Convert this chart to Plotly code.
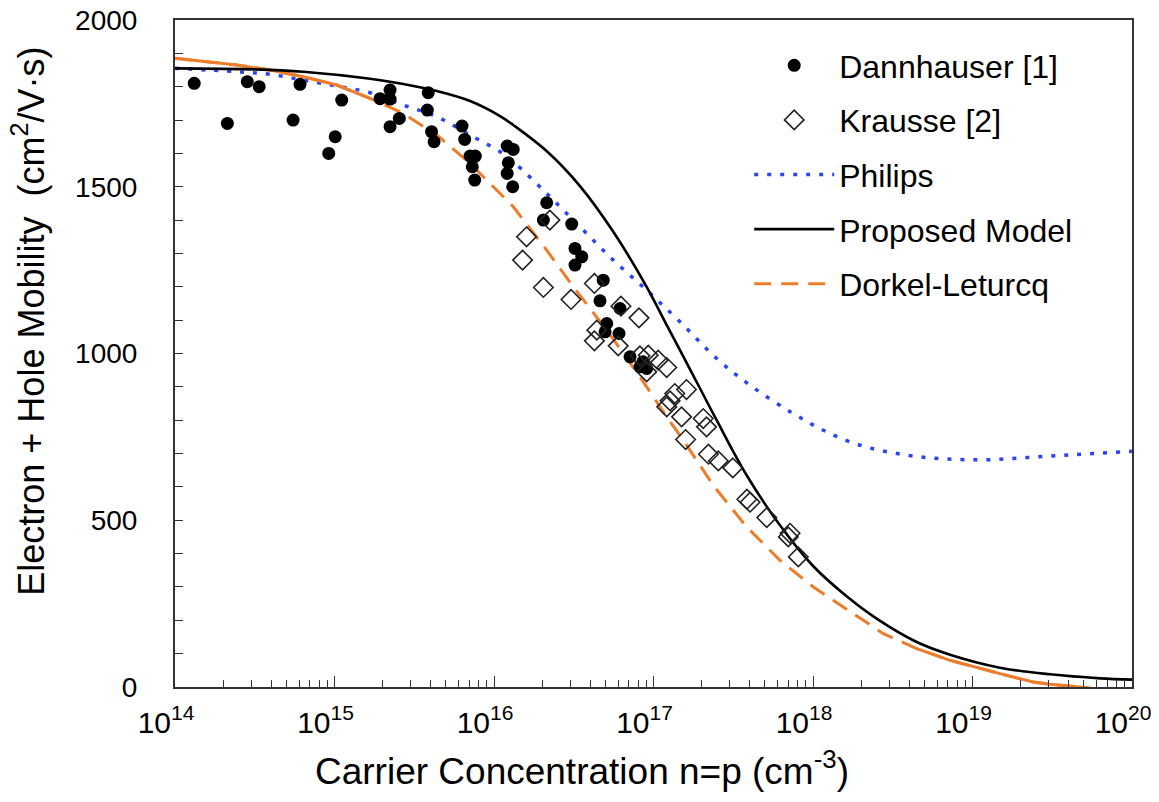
import plotly.graph_objects as go

# ---------------- data ----------------
# Dannhauser [1] measurements: carrier concentration (cm^-3), mobility (cm^2/V.s)
dann_conc = [1.32e14, 2.13e14, 2.84e14, 3.37e14, 5.50e14, 6.08e14, 9.2e14, 1.01e15, 1.11e15,
             1.93e15, 2.23e15, 2.23e15, 2.55e15, 2.23e15, 3.87e15, 3.82e15, 4.06e15, 4.21e15,
             6.30e15, 6.55e15, 7.08e15, 7.64e15, 7.31e15, 7.57e15, 1.21e16, 1.32e16, 1.23e16,
             1.21e16, 1.31e16, 2.14e16, 2.04e16, 3.07e16, 3.22e16, 3.55e16, 3.22e16, 4.84e16,
             4.62e16, 6.17e16, 5.09e16, 4.97e16, 6.08e16, 7.13e16, 8.22e16, 9.06e16, 8.59e16]
dann_mob = [1810, 1690, 1815, 1800, 1700, 1807, 1600, 1650, 1760,
            1764, 1790, 1763, 1705, 1680, 1782, 1730, 1665, 1635,
            1682, 1642, 1592, 1592, 1560, 1520, 1622, 1612, 1572,
            1540, 1500, 1452, 1400, 1388, 1315, 1290, 1265, 1220,
            1158, 1135, 1090, 1065, 1060, 990, 960, 955, 975]

# Krausse [2] measurements
kr_conc = [2.24e16, 1.60e16, 1.51e16, 2.04e16, 3.04e16, 4.26e16, 6.25e16, 8.11e16, 4.41e16,
           4.26e16, 6.01e16, 8.22e16, 9.27e16, 1.07e17, 1.21e17, 9.06e16, 1.61e17, 1.36e17,
           1.27e17, 1.21e17, 1.50e17, 2.05e17, 2.15e17, 1.59e17, 2.21e17, 2.55e17, 3.14e17,
           3.85e17, 4.03e17, 5.13e17, 7.00e17, 7.18e17, 8.09e17]
kr_mob = [1400, 1350, 1280, 1198, 1162, 1210, 1142, 1107, 1070,
          1038, 1023, 993, 995, 980, 958, 945, 892, 880,
          858, 840, 810, 805, 780, 742, 698, 678, 657,
          563, 554, 508, 450, 461, 390]

# Philips model (log10 of concentration, mobility)
phil_exp = [14.0, 14.387, 14.596, 14.804, 15.014, 15.223, 15.431, 15.641, 15.850, 16.038,
            16.121, 16.330, 16.539, 16.748, 16.957, 17.166, 17.396, 17.605, 17.876, 18.086,
            18.295, 18.503, 18.713, 18.922, 19.130, 19.340, 19.549, 19.757, 20.0]
phil_mob = [1855, 1845, 1837, 1820, 1802, 1782, 1745, 1710, 1655, 1605,
            1575, 1480, 1380, 1280, 1190, 1095, 985, 905, 820, 765,
            725, 702, 688, 682, 682, 688, 694, 700, 707]

# Proposed model
prop_exp = [14.0, 14.5, 14.804, 15.223, 15.431, 15.641, 15.850, 16.038, 16.121, 16.330,
            16.539, 16.748, 16.957, 17.083, 17.166, 17.292, 17.396, 17.584, 17.793, 18.002,
            18.211, 18.399, 18.650, 18.859, 19.172, 19.486, 19.799, 20.0]
prop_mob = [1855, 1852, 1845, 1824, 1808, 1787, 1757, 1712, 1685, 1607,
            1502, 1365, 1200, 1085, 1010, 895, 800, 635, 485, 362,
            272, 205, 135, 97, 58, 38, 26, 22]

# Dorkel-Leturcq model
dork_exp = [14.0, 14.177, 14.387, 14.596, 14.804, 15.014, 15.223, 15.431, 15.641, 15.850,
            16.038, 16.121, 16.330, 16.497, 16.707, 16.915, 17.083, 17.187, 17.270, 17.374,
            17.584, 17.793, 18.002, 18.253, 18.441, 18.650, 18.859, 19.172, 19.381, 19.486,
            19.674, 20.0]
dork_mob = [1885, 1875, 1865, 1850, 1830, 1805, 1765, 1720, 1655, 1570,
            1480, 1440, 1310, 1200, 1070, 930, 810, 740, 680, 605,
            480, 380, 300, 220, 160, 115, 80, 40, 15, 8,
            0, -20]

# ---------------- figure ----------------
FONT = "Liberation Sans, Arial, sans-serif"
ORANGE = "#ee7d2b"

fig = go.Figure()

# model curves first (markers drawn on top)
fig.add_trace(go.Scatter(
    x=[10 ** e for e in phil_exp], y=phil_mob, mode="lines", name="Philips",
    line=dict(color="#2b45f5", width=3.5, dash="4px,9px", shape="spline"),
    legendgroup="g3", legendrank=3))

fig.add_trace(go.Scatter(
    x=[10 ** e for e in dork_exp], y=dork_mob, mode="lines", name="Dorkel-Leturcq",
    line=dict(color=ORANGE, width=3, dash="17px,10px"),
    legendgroup="g5", legendrank=5))

# the flat ends of the Dorkel-Leturcq curve render as a solid stroke in the reference
for lo, hi in [(14.0, 15.25), (18.6, 20.0)]:
    idx = [i for i, e in enumerate(dork_exp) if lo <= e <= hi]
    fig.add_trace(go.Scatter(
        x=[10 ** dork_exp[i] for i in idx], y=[dork_mob[i] for i in idx],
        mode="lines", showlegend=False, hoverinfo="skip",
        line=dict(color=ORANGE, width=3),
        legendgroup="g5", legendrank=5))

fig.add_trace(go.Scatter(
    x=[10 ** e for e in prop_exp], y=prop_mob, mode="lines", name="Proposed Model",
    line=dict(color="black", width=2.6, shape="spline"),
    legendgroup="g4", legendrank=4))

fig.add_trace(go.Scatter(
    x=dann_conc, y=dann_mob, mode="markers", name="Dannhauser [1]",
    marker=dict(symbol="circle", size=13, color="black"),
    legendgroup="g1", legendrank=1))

fig.add_trace(go.Scatter(
    x=kr_conc, y=kr_mob, mode="markers", name="Krausse [2]",
    marker=dict(symbol="diamond-open", size=15, color="#222222", line=dict(width=1.6)),
    legendgroup="g2", legendrank=2))

fig.update_layout(
    width=1159, height=802,
    margin=dict(l=175, r=27, t=20, b=115),
    paper_bgcolor="white", plot_bgcolor="white",
    font=dict(family=FONT, color="black"),
    showlegend=True,
    legend=dict(
        x=0.60, y=0.973, xanchor="left", yanchor="top",
        font=dict(family=FONT, size=32, color="black"),
        bgcolor="rgba(0,0,0,0)", borderwidth=0,
        itemwidth=80, tracegroupgap=10, traceorder="grouped"),
    annotations=[
        dict(text="Carrier Concentration n=p (cm<sup>-3</sup>)",
             xref="paper", yref="paper", x=0.4253, y=-0.122,
             xanchor="center", yanchor="middle", showarrow=False,
             font=dict(family=FONT, size=37, color="black")),
        dict(text="Electron + Hole Mobility  (cm<sup>2</sup>/V·s)",
             xref="paper", yref="paper", x=-0.153, y=0.5485,
             xanchor="center", yanchor="middle", showarrow=False, textangle=-90,
             font=dict(family=FONT, size=36, color="black")),
    ],
)

fig.update_xaxes(
    type="log", range=[14, 20], dtick=1, exponentformat="power",
    automargin=False,
    showgrid=False, zeroline=False,
    showline=True, linecolor="#333333", linewidth=2, mirror=True,
    ticks="inside", ticklen=11, tickwidth=1.2, tickcolor="#333333",
    minor=dict(ticks="inside", ticklen=7, tickwidth=1.2, tickcolor="#333333",
               dtick="D1", showgrid=False),
    tickfont=dict(family=FONT, size=24),
    ticklabelstandoff=9, ticklabelshift=-9, ticklabeloverflow="allow",
)

fig.update_yaxes(
    range=[0, 2000], dtick=500,
    automargin=False,
    showgrid=False, zeroline=False,
    showline=True, linecolor="#333333", linewidth=2, mirror=True,
    ticks="inside", ticklen=8, tickwidth=1.2, tickcolor="#333333",
    minor=dict(ticks="inside", ticklen=8, tickwidth=1.2, tickcolor="#333333",
               dtick=100, showgrid=False),
    tickfont=dict(family=FONT, size=28),
    ticklabelstandoff=30,
)

fig.write_html("out.html")
